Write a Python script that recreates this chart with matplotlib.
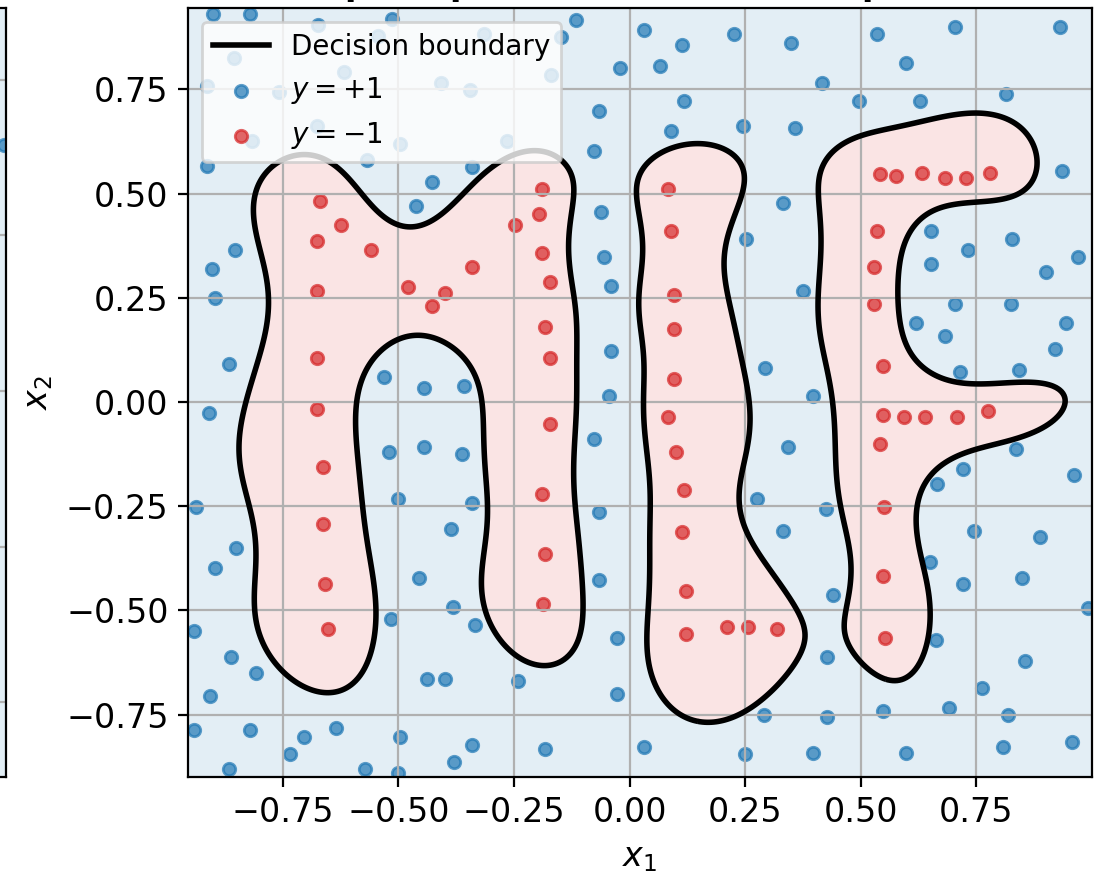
import numpy as np
import matplotlib
matplotlib.use("Agg")
import matplotlib.pyplot as plt

# points of class y = +1 (blue)
pos_x1 = [-0.900, -0.822, -0.674, -0.514, -0.855, -0.617, -0.914, -0.758, -0.675, -0.817,
          -0.569, -0.496, -0.408, -0.345, -0.314, -0.544, -0.913, -0.427, -0.461, -0.854,
          -0.903, -0.340, -0.117, -0.148, -0.169, -0.265, 0.032, 0.226, 0.113, 0.350,
          -0.020, 0.065, 0.118, -0.066, 0.090, 0.246, 0.358, -0.076, 0.332, -0.061,
          -0.056, 0.252, 0.534, 0.703, 0.931, 0.598, 0.415, 0.495, 0.629, 0.814,
          0.935, 0.652, 0.827, 0.731, 0.969, 0.652, 0.901, -0.896, -0.867, -0.909,
          -0.937, -0.532, -0.445, -0.358, -0.520, -0.445, -0.363, -0.501, -0.340, -0.387,
          -0.040, -0.040, -0.044, -0.078, -0.066, 0.293, 0.343, 0.275, 0.332, 0.374,
          0.703, 0.824, 0.619, 0.681, 0.944, 0.919, 0.714, 0.843, 0.397, 0.836,
          0.720, 0.960, 0.665, 0.425, 0.744, -0.851, -0.896, -0.943, -0.863, -0.808,
          -0.908, -0.943, -0.820, -0.867, -0.734, -0.705, -0.636, -0.572, -0.501, -0.496,
          -0.340, -0.380, -0.515, -0.455, -0.382, -0.334, -0.439, -0.399, -0.066, -0.027,
          -0.242, -0.027, -0.182, 0.032, 0.250, 0.291, 0.439, 0.427, 0.427, 0.397,
          0.888, 0.650, 0.720, 0.848, 0.991, 0.663, 0.855, 0.763, 0.547, 0.691,
          0.819, 0.598, 0.808, 0.957]
pos_x2 = [0.931, 0.931, 0.905, 0.919, 0.826, 0.791, 0.759, 0.743, 0.662, 0.627,
          0.581, 0.619, 0.765, 0.749, 0.883, 0.877, 0.566, 0.527, 0.470, 0.365,
          0.319, 0.563, 0.917, 0.875, 0.785, 0.625, 0.893, 0.882, 0.857, 0.861,
          0.801, 0.806, 0.721, 0.698, 0.651, 0.661, 0.657, 0.601, 0.477, 0.456,
          0.347, 0.390, 0.883, 0.899, 0.899, 0.814, 0.765, 0.723, 0.723, 0.738,
          0.553, 0.410, 0.390, 0.364, 0.347, 0.331, 0.311, 0.250, 0.092, -0.026,
          -0.253, 0.060, 0.034, 0.038, -0.119, -0.109, -0.124, -0.232, -0.242, -0.306,
          0.277, 0.122, 0.014, -0.090, -0.264, 0.081, -0.108, -0.232, -0.310, 0.266,
          0.235, 0.235, 0.190, 0.158, 0.190, 0.126, 0.071, 0.076, 0.014, -0.113,
          -0.161, -0.176, -0.198, -0.258, -0.310, -0.351, -0.398, -0.550, -0.611, -0.650,
          -0.705, -0.787, -0.787, -0.880, -0.844, -0.804, -0.783, -0.880, -0.891, -0.804,
          -0.823, -0.864, -0.520, -0.422, -0.491, -0.535, -0.665, -0.665, -0.427, -0.567,
          -0.670, -0.701, -0.833, -0.828, -0.844, -0.752, -0.464, -0.611, -0.756, -0.843,
          -0.325, -0.383, -0.438, -0.422, -0.495, -0.572, -0.622, -0.686, -0.741, -0.735,
          -0.751, -0.843, -0.828, -0.817]

# points of class y = -1 (red)
neg_x1 = [-0.670, -0.625, -0.677, -0.560, -0.340, -0.676, -0.480, -0.399, -0.427, -0.675,
          -0.675, -0.663, -0.663, -0.658, -0.653, -0.189, -0.196, -0.247, -0.189, -0.173,
          -0.182, -0.173, -0.173, -0.189, -0.182, -0.187,
          0.084, 0.090, 0.096, 0.096, 0.096, 0.082, 0.100, 0.118, 0.113, 0.122,
          0.122, 0.211, 0.257, 0.319,
          0.542, 0.577, 0.633, 0.682, 0.727, 0.779, 0.536, 0.529, 0.529, 0.548,
          0.548, 0.593, 0.639, 0.709, 0.774, 0.542, 0.550, 0.548, 0.553]
neg_x2 = [0.481, 0.424, 0.385, 0.364, 0.323, 0.266, 0.276, 0.261, 0.229, 0.105,
          -0.017, -0.156, -0.294, -0.438, -0.546, 0.512, 0.451, 0.424, 0.358, 0.287,
          0.179, 0.105, -0.053, -0.221, -0.366, -0.484,
          0.512, 0.409, 0.256, 0.174, 0.056, -0.037, -0.119, -0.211, -0.312, -0.453,
          -0.556, -0.541, -0.541, -0.546,
          0.547, 0.542, 0.548, 0.537, 0.537, 0.548, 0.409, 0.324, 0.235, 0.086,
          -0.031, -0.037, -0.037, -0.037, -0.022, -0.101, -0.253, -0.417, -0.566]

# neighbouring panel (only its edge is visible)
left_x1 = [0.98]
left_x2 = [0.79]

X = np.column_stack([pos_x1 + neg_x1, pos_x2 + neg_x2])
y = np.array([1.0] * len(pos_x1) + [-1.0] * len(neg_x1))
gamma = 20.0
C = 1000.0


def kern(a, b):
    d = ((a[:, None, :] - b[None, :, :]) ** 2).sum(-1)
    return np.exp(-gamma * d) + 1.0


# kernel SVM, dual coordinate ascent
K = kern(X, X)
alpha = np.zeros(len(y))
fx = np.zeros(len(y))
for _ in range(600):
    for i in range(len(y)):
        new = min(max(alpha[i] + (1 - y[i] * fx[i]) / K[i, i], 0.0), C)
        d = new - alpha[i]
        if d != 0.0:
            fx += d * y[i] * K[:, i]
            alpha[i] = new

xlim = (-0.955, 1.0)
ylim = (-0.90, 0.945)
g1, g2 = np.meshgrid(np.linspace(*xlim, 400), np.linspace(*ylim, 400))
grid = np.column_stack([g1.ravel(), g2.ravel()])
f = (kern(grid, X) @ (alpha * y)).reshape(g1.shape)

fig = plt.figure(figsize=(5.475, 4.36), dpi=200)
ax = fig.add_axes([0.1717, 0.1089, 0.8256, 0.8819])

ax.contourf(g1, g2, f, levels=[-1e9, 0, 1e9], colors=["tab:red", "tab:blue"], alpha=0.12)
ax.contour(g1, g2, f, levels=[0], colors="k", linewidths=2)
ax.plot([], [], color="k", lw=2, label="Decision boundary")
ax.scatter(pos_x1, pos_x2, s=20, color="tab:blue", alpha=0.7, label="$y=+1$")
ax.scatter(neg_x1, neg_x2, s=20, color="tab:red", alpha=0.7, label="$y=-1$")
ax.set_xlim(xlim)
ax.set_ylim(ylim)
ax.set_xticks([-0.75, -0.5, -0.25, 0, 0.25, 0.5, 0.75])
ax.set_yticks([-0.75, -0.5, -0.25, 0, 0.25, 0.5, 0.75])
ax.tick_params(labelsize=12)
ax.grid(True)
ax.set_xlabel("$x_1$", fontsize=12)
ax.set_ylabel("$x_2$", fontsize=12)
ax.legend(loc="upper left", fontsize=10)
ax.set_title("Kernel perceptron (RBF, $\\sigma=0.15$, epochs$=20$)", fontsize=12,
             fontweight="bold", pad=4.6)

ax0 = fig.add_axes([-0.4, 0.1089, 0.4059, 0.8819])
ax0.set_facecolor((0.886, 0.933, 0.961))
ax0.scatter(left_x1, left_x2, s=20, color="tab:blue", alpha=0.7)
ax0.set_xlim(-1.0, 0.99)
ax0.set_ylim(-1.24, 1.23)
ax0.set_yticks([-1, -0.5, 0, 0.5, 1])
ax0.grid(True)
ax0.set_xticklabels([])
ax0.set_yticklabels([])

fig.savefig("out.png", dpi=200)
